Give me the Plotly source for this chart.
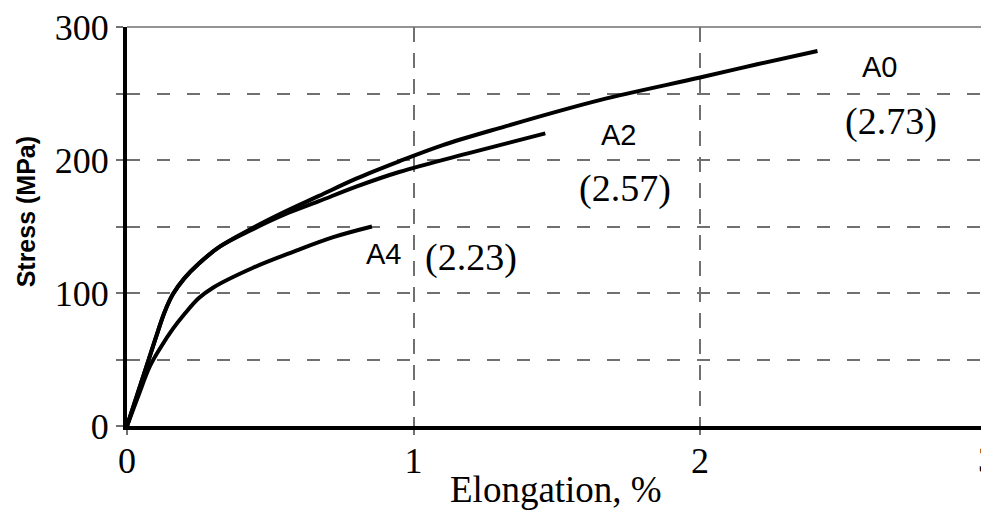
import plotly.graph_objects as go

# Data (Elongation %, Stress MPa)
a0_x = [0, 0.05, 0.10, 0.13, 0.16, 0.20, 0.25, 0.325, 0.44, 0.55, 0.67, 0.80, 0.95, 1.10, 1.30, 1.65, 2.00, 2.20, 2.41]
a0_y = [0, 33, 66, 85, 99, 111, 122, 135, 149, 161, 173, 186, 199, 211, 224, 245, 262, 272, 282]
a2_x = [0, 0.05, 0.10, 0.13, 0.16, 0.20, 0.25, 0.325, 0.44, 0.55, 0.67, 0.80, 0.95, 1.19, 1.46]
a2_y = [0, 33, 66, 85, 99, 111, 122, 135, 148, 159, 169, 180, 191, 205, 220]
a4_x = [0, 0.04, 0.08, 0.12, 0.16, 0.20, 0.25, 0.30, 0.44, 0.58, 0.72, 0.855]
a4_y = [0, 23, 45, 60, 73, 84, 96, 104, 119, 131, 142, 150]

x_ticks = [0, 1, 2]
y_ticks = [0, 50, 100, 150, 200, 250, 300]
y_ticktext = ["0", "", "100", "", "200", "", "300"]

labels = [
    ("A0", 2.625, 270, "sans"),
    ("(2.73)", 2.667, 228.6, "serif"),
    ("A2", 1.717, 218.8, "sans"),
    ("(2.57)", 1.738, 178.2, "serif"),
    ("A4", 0.897, 129.3, "sans"),
    ("(2.23)", 1.201, 127, "serif"),
]

fig = go.Figure()
for xs, ys, name in [(a0_x, a0_y, "A0"), (a2_x, a2_y, "A2"), (a4_x, a4_y, "A4")]:
    fig.add_trace(go.Scatter(x=xs, y=ys, mode="lines", name=name,
                             line=dict(color="black", width=4, shape="spline", smoothing=1.0)))

serif = "Liberation Serif, Times New Roman, serif"
sans = "Liberation Sans, Arial, sans-serif"

annotations = []
for text, x, y, fam in labels:
    annotations.append(dict(
        text=text, x=x, y=y, xref="x", yref="y", showarrow=False,
        font=dict(family=sans if fam == "sans" else serif, size=29 if fam == "sans" else 38, color="black"),
        xanchor="center", yanchor="middle"))

annotations.append(dict(text="Elongation, %", x=0.5023, y=-0.158, xref="paper", yref="paper",
                        showarrow=False, xanchor="center", yanchor="middle",
                        font=dict(family=serif, size=37, color="black")))
annotations.append(dict(text="<b>Stress (MPa)</b>", x=-0.118, y=0.536, xref="paper", yref="paper",
                        showarrow=False, xanchor="center", yanchor="middle", textangle=-90,
                        font=dict(family=sans, size=25, color="black")))
annotations.append(dict(text="3", x=(986.5 - 127) / 854, y=-0.085, xref="paper", yref="paper",
                        showarrow=False, xanchor="center", yanchor="middle",
                        font=dict(family=serif, size=36, color="black")))

fig.add_shape(type="line", xref="paper", yref="paper", x0=0, x1=1, y0=1, y1=1,
              line=dict(color="#707070", width=1.5), layer="below")

fig.update_layout(
    width=981, height=510,
    margin=dict(l=127, r=0, t=27, b=84),
    paper_bgcolor="white", plot_bgcolor="white",
    showlegend=False,
    annotations=annotations,
    xaxis=dict(range=[0, 854 / 286.5], tickvals=x_ticks, ticktext=[str(v) for v in x_ticks],
               showgrid=True, gridcolor="#707070", griddash="15px,11px", gridwidth=1.5,
               showline=True, linecolor="black", linewidth=4,
               ticks="outside", ticklen=5, tickcolor="#707070", tickwidth=1.5,
               ticklabelstandoff=-5,
               tickfont=dict(family=serif, size=36, color="black"), zeroline=False),
    yaxis=dict(range=[0, 300], tickvals=y_ticks, ticktext=y_ticktext,
               showgrid=True, gridcolor="#707070", griddash="13px,17px", gridwidth=1.5,
               showline=True, linecolor="black", linewidth=4,
               ticks="outside", ticklen=7, tickcolor="#707070", tickwidth=1.5,
               tickfont=dict(family=serif, size=36, color="black"), zeroline=False),
)

fig.write_html("out.html")
